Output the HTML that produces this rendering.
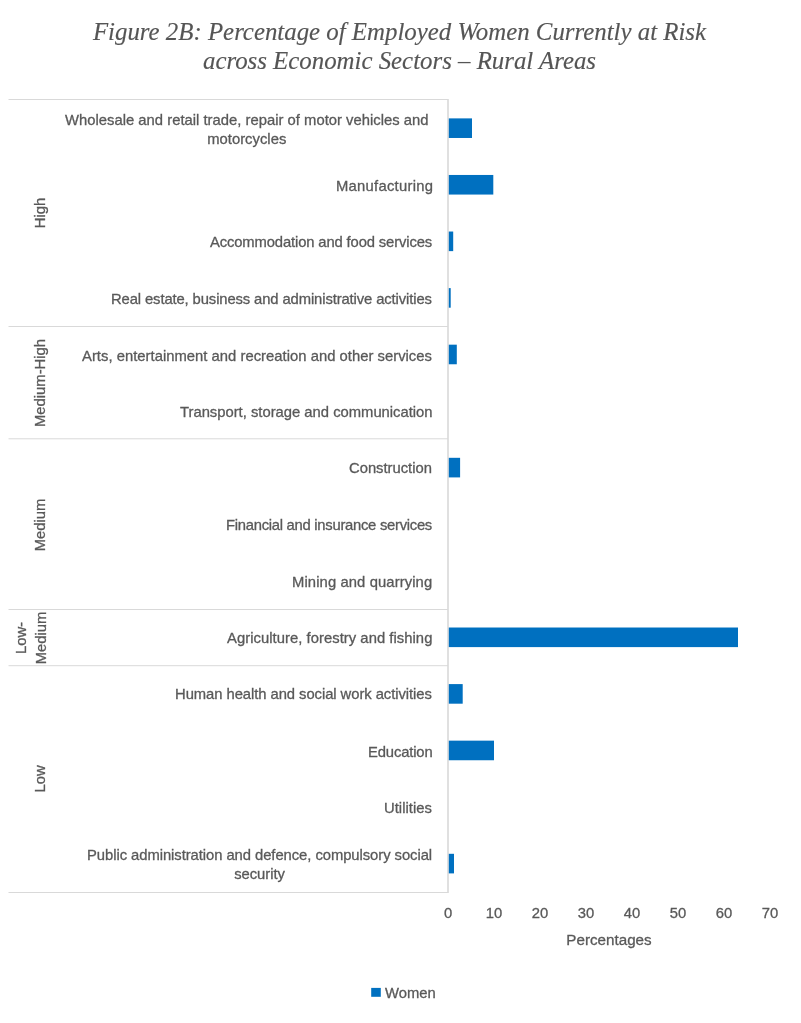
<!DOCTYPE html>
<html><head><meta charset="utf-8"><style>
html,body{margin:0;padding:0;background:#fff;}
body{width:801px;height:1023px;position:relative;overflow:hidden;-webkit-text-stroke:0.3px #595959;font-family:"Liberation Sans",sans-serif;color:#595959;}
.t{position:absolute;will-change:transform;-webkit-text-stroke:0.15px #555;left:0;width:801px;text-align:center;font-family:"Liberation Serif",serif;font-style:italic;font-size:24.85px;color:#555;white-space:nowrap;line-height:29px;}
.l{position:absolute;will-change:transform;font-size:14.80px;line-height:19.40px;white-space:nowrap;text-align:center;transform-origin:100% 0;}
.g{position:absolute;font-size:14.80px;line-height:20px;white-space:nowrap;text-align:center;transform-origin:0 0;transform:rotate(-90deg);}
.k{position:absolute;will-change:transform;font-size:14.80px;line-height:20px;white-space:nowrap;}
svg{position:absolute;left:0;top:0;}
</style></head><body>

<div class="t" style="left:-1px;top:16.91px">Figure 2B: Percentage of Employed Women Currently at Risk<br>across Economic Sectors – Rural Areas</div>
<svg width="801" height="1023" viewBox="0 0 801 1023">
<line x1="8.5" y1="99.50" x2="448" y2="99.50" stroke="#d9d9d9" stroke-width="1"/>
<line x1="8.5" y1="326.50" x2="448" y2="326.50" stroke="#d9d9d9" stroke-width="1"/>
<line x1="8.5" y1="438.80" x2="448" y2="438.80" stroke="#d9d9d9" stroke-width="1"/>
<line x1="8.5" y1="609.50" x2="448" y2="609.50" stroke="#d9d9d9" stroke-width="1"/>
<line x1="8.5" y1="665.70" x2="448" y2="665.70" stroke="#d9d9d9" stroke-width="1"/>
<line x1="8.5" y1="892.50" x2="448" y2="892.50" stroke="#d9d9d9" stroke-width="1"/>
<line x1="448" y1="99" x2="448" y2="893" stroke="#d9d9d9" stroke-width="1.6"/>
<rect x="448.8" y="118.38" width="23.20" height="19.6" fill="#0070c0"/>
<rect x="448.8" y="174.96" width="44.50" height="19.6" fill="#0070c0"/>
<rect x="448.8" y="231.53" width="4.40" height="19.6" fill="#0070c0"/>
<rect x="448.8" y="288.10" width="1.90" height="19.6" fill="#0070c0"/>
<rect x="448.8" y="344.67" width="8.00" height="19.6" fill="#0070c0"/>
<rect x="448.8" y="457.81" width="11.30" height="19.6" fill="#0070c0"/>
<rect x="448.8" y="627.51" width="289.20" height="19.6" fill="#0070c0"/>
<rect x="448.8" y="684.09" width="13.90" height="19.6" fill="#0070c0"/>
<rect x="448.8" y="740.65" width="45.20" height="19.6" fill="#0070c0"/>
<rect x="448.8" y="853.80" width="5.20" height="19.6" fill="#0070c0"/>
<rect x="371.2" y="987.9" width="9.6" height="8.9" fill="#0070c0"/>
</svg>
<div class="l" style="right:372.29px;top:110.67px;letter-spacing:0.0145px">Wholesale and retail trade, repair of motor vehicles and<br>motorcycles</div>
<div class="l" style="right:368.23px;top:176.97px;letter-spacing:0.2667px">Manufacturing</div>
<div class="l" style="right:368.83px;top:233.07px;letter-spacing:-0.1333px">Accommodation and food services</div>
<div class="l" style="right:368.81px;top:290.17px;letter-spacing:-0.1120px">Real estate, business and administrative activities</div>
<div class="l" style="right:368.68px;top:346.87px;letter-spacing:0.0231px">Arts, entertainment and recreation and other services</div>
<div class="l" style="right:368.71px;top:402.67px;letter-spacing:-0.0057px">Transport, storage and communication</div>
<div class="l" style="right:368.72px;top:459.47px;letter-spacing:-0.0182px">Construction</div>
<div class="l" style="right:368.97px;top:516.27px;letter-spacing:-0.2710px">Financial and insurance services</div>
<div class="l" style="right:368.59px;top:573.07px;letter-spacing:0.1053px">Mining and quarrying</div>
<div class="l" style="right:368.66px;top:629.47px;letter-spacing:0.0438px">Agriculture, forestry and fishing</div>
<div class="l" style="right:368.76px;top:685.37px;letter-spacing:-0.0579px">Human health and social work activities</div>
<div class="l" style="right:368.95px;top:742.87px;letter-spacing:-0.1500px">Education</div>
<div class="l" style="right:368.67px;top:798.87px;letter-spacing:0.0250px">Utilities</div>
<div class="l" style="right:368.85px;top:845.97px;letter-spacing:-0.0549px">Public administration and defence, compulsory social<br>security</div>
<div class="k" style="left:427.50px;top:903.17px;width:40px;text-align:center">0</div>
<div class="k" style="left:473.50px;top:903.17px;width:40px;text-align:center">10</div>
<div class="k" style="left:519.50px;top:903.17px;width:40px;text-align:center">20</div>
<div class="k" style="left:565.50px;top:903.17px;width:40px;text-align:center">30</div>
<div class="k" style="left:611.50px;top:903.17px;width:40px;text-align:center">40</div>
<div class="k" style="left:657.50px;top:903.17px;width:40px;text-align:center">50</div>
<div class="k" style="left:703.50px;top:903.17px;width:40px;text-align:center">60</div>
<div class="k" style="left:749.50px;top:903.17px;width:40px;text-align:center">70</div>
<div class="k" style="left:508.70px;top:929.70px;width:200px;text-align:center;font-size:15.2px">Percentages</div>
<div class="k" style="left:384.5px;top:982.90px">Women</div>
<div class="g" style="left:29.87px;top:273.00px;width:120px;height:20px">High</div>
<div class="g" style="left:29.87px;top:443.00px;width:120px;height:20px">Medium-High</div>
<div class="g" style="left:29.77px;top:584.80px;width:120px;height:20px">Medium</div>
<div class="g" style="left:10.67px;top:698.00px;width:120px;height:40px">Low-<br>Medium</div>
<div class="g" style="left:29.77px;top:838.80px;width:120px;height:20px">Low</div>
</body></html>
